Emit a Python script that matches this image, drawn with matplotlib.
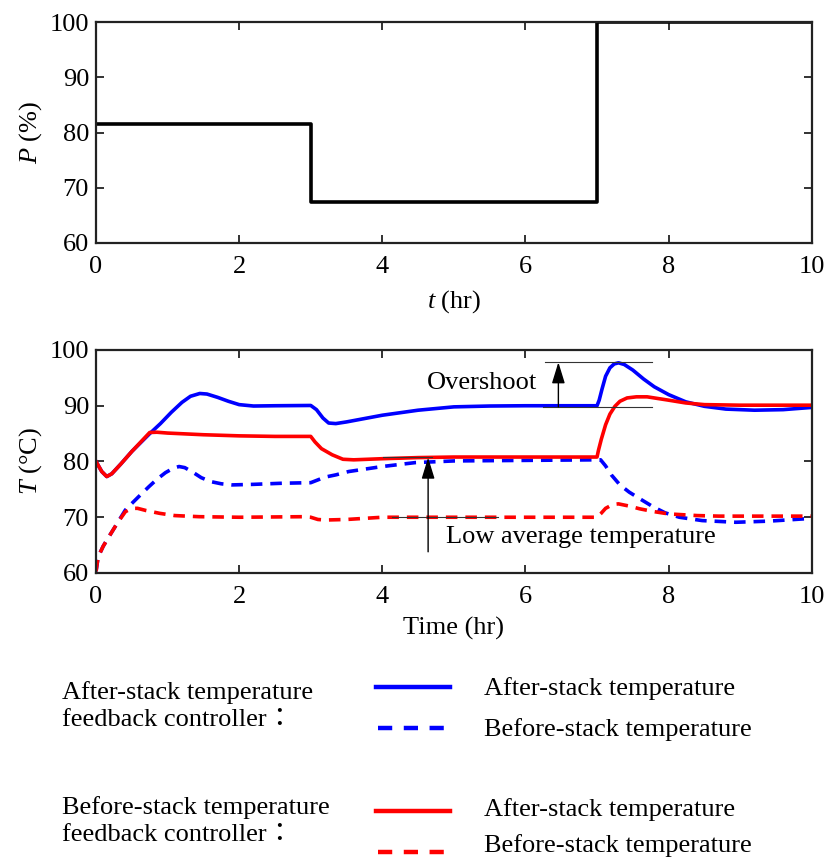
import matplotlib.pyplot as plt
from matplotlib.lines import Line2D

plt.rcParams['font.family'] = ['Liberation Serif', 'Noto Sans CJK JP', 'DejaVu Serif']
plt.rcParams['mathtext.fontset'] = 'custom'
plt.rcParams['mathtext.it'] = 'Liberation Serif:italic'
plt.rcParams['mathtext.rm'] = 'Liberation Serif'
FS = 19

# load step (top panel)
t_load = [0, 3, 7, 10]
p_load = [81.5, 67.5, 100, 100]

# after-stack temperature feedback controller
t_a_after = [0, 0.08, 0.15, 0.22, 0.35, 0.5, 0.75, 0.9, 1.05, 1.2, 1.32, 1.45, 1.55, 1.7,
             1.85, 2.0, 2.2, 2.5, 3.0, 3.08, 3.17, 3.25, 3.35, 3.5, 3.75, 4.0, 4.5, 5.0,
             5.5, 6.0, 7.0, 7.03, 7.07, 7.12, 7.18, 7.24, 7.3, 7.38, 7.5, 7.65, 7.8, 8.0,
             8.24, 8.5, 8.8, 9.2, 9.6, 10]
T_a_after = [80, 78.2, 77.3, 77.8, 79.6, 81.8, 85.0, 86.8, 88.8, 90.6, 91.7, 92.2, 92.1, 91.5,
             90.8, 90.2, 89.95, 90.0, 90.05, 89.3, 87.8, 86.9, 86.8, 87.1, 87.7, 88.3, 89.2, 89.8,
             89.95, 90.0, 90.0, 91.0, 93.0, 95.3, 96.8, 97.5, 97.7, 97.4, 96.4, 94.8, 93.4, 92.0,
             90.7, 89.9, 89.4, 89.2, 89.3, 89.7]

t_a_before = [0, 0.03, 0.1, 0.17, 0.3, 0.41, 0.51, 0.62, 0.74, 0.85, 0.97, 1.08, 1.16, 1.24,
              1.35, 1.47, 1.6, 1.75, 1.9, 2.2, 2.6, 3.0, 3.1, 3.2, 3.35, 3.53, 4.0, 4.46, 5.0,
              6.0, 7.0, 7.05, 7.12, 7.2, 7.32, 7.45, 7.6, 7.78, 7.95, 8.15, 8.47, 8.94, 9.4, 10]
T_a_before = [60.3, 62.9, 64.8, 66.3, 69.0, 71.3, 72.6, 74.0, 75.5, 76.8, 78.0, 78.8, 79.1, 78.9,
              78.1, 77.1, 76.4, 76.0, 75.8, 75.9, 76.1, 76.2, 76.7, 77.2, 77.6, 78.2, 79.1, 79.8, 80.1,
              80.2, 80.3, 80.3, 79.2, 77.6, 75.8, 74.5, 73.3, 71.9, 70.8, 70.0, 69.4, 69.1, 69.3, 69.8]

# before-stack temperature feedback controller
t_b_after = [0, 0.08, 0.15, 0.22, 0.35, 0.5, 0.75, 0.85, 1.0, 1.5, 2.0, 2.5, 3.0, 3.06,
             3.15, 3.3, 3.45, 3.6, 4.0, 4.5, 5.0, 7.0, 7.02, 7.06, 7.12, 7.18, 7.25, 7.32,
             7.42, 7.55, 7.7, 7.85, 8.0, 8.24, 8.5, 9.0, 10]
T_b_after = [80, 78.2, 77.3, 77.8, 79.6, 81.8, 85.2, 85.25, 85.1, 84.8, 84.6, 84.5, 84.5, 83.5,
             82.3, 81.2, 80.4, 80.3, 80.5, 80.7, 80.8, 80.8, 82.0, 84.0, 86.6, 88.5, 89.9, 90.8,
             91.4, 91.6, 91.6, 91.3, 91.0, 90.5, 90.2, 90.1, 90.1]

t_b_before = [0, 0.03, 0.1, 0.17, 0.3, 0.41, 0.5, 0.58, 0.7, 0.89, 1.1, 1.44, 2.0, 2.9,
              3.0, 3.1, 3.2, 3.5, 4.0, 5.0, 7.0, 7.05, 7.12, 7.22, 7.3, 7.45, 7.6, 7.8,
              8.0, 8.4, 8.7, 10]
T_b_before = [60.3, 62.9, 64.8, 66.3, 69.0, 71.0, 71.6, 71.6, 71.2, 70.7, 70.3, 70.1, 70.0, 70.1,
              70.0, 69.6, 69.5, 69.6, 70.0, 70.0, 70.0, 70.6, 71.6, 72.3, 72.4, 72.0, 71.5, 71.0,
              70.6, 70.3, 70.2, 70.2]

fig = plt.figure(figsize=(8.3, 8.61), dpi=100)
ax1 = fig.add_axes([0.1157, 0.7178, 0.8623, 0.2566])
ax2 = fig.add_axes([0.1157, 0.3345, 0.8623, 0.259])

ax1.plot(t_load, p_load, drawstyle='steps-post', color='black', lw=2.6)
ax1.set_xlim(0, 10)
ax1.set_ylim(60, 100)
ax1.set_xticks(range(0, 11, 2))
ax1.set_yticks(range(60, 101, 10))
ax1.set_xlabel('$t$ (hr)', fontsize=FS, labelpad=7)
ax1.set_ylabel('$P$ (%)', fontsize=FS, labelpad=4)

dash = (3.2, 2.2)
ax2.plot(t_a_after, T_a_after, color='#0000ff', lw=2.6)
ax2.plot(t_a_before, T_a_before, color='#0000ff', lw=2.6, ls=(0, dash))
ax2.plot(t_b_after, T_b_after, color='#ff0000', lw=2.6)
ax2.plot(t_b_before, T_b_before, color='#ff0000', lw=2.6, ls=(0, dash))
ax2.set_xlim(0, 10)
ax2.set_ylim(60, 100)
ax2.set_xticks(range(0, 11, 2))
ax2.set_yticks(range(60, 101, 10))
ax2.set_xlabel('Time (hr)', fontsize=FS, labelpad=6)
ax2.set_ylabel('$T$ (°C)', fontsize=FS, labelpad=4)

arrow_style = '-|>,head_length=1.3,head_width=0.4'

# overshoot annotation
ax2.plot([6.27, 7.77], [97.8, 97.8], color='#333333', lw=0.8)
ax2.plot([6.25, 7.77], [89.8, 89.8], color='#333333', lw=0.8)
ax2.annotate('', xy=(6.46, 97.8), xytext=(6.46, 89.8),
             arrowprops=dict(arrowstyle=arrow_style, color='black', lw=1, shrinkA=0, shrinkB=0))
ax2.text(4.62, 94.1, 'Overshoot', fontsize=FS, va='center', ha='left')

# low average temperature annotation
ax2.plot([4.01, 4.7], [80.8, 80.8], color='#333333', lw=0.8)
ax2.plot([4.13, 5.61], [70.0, 70.0], color='#333333', lw=0.8)
ax2.annotate('', xy=(4.64, 80.7), xytext=(4.64, 63.8),
             arrowprops=dict(arrowstyle=arrow_style, color='black', lw=1, shrinkA=0, shrinkB=0))
ax2.text(4.89, 66.5, 'Low average temperature', fontsize=FS, va='center', ha='left')

for ax in (ax1, ax2):
    ax.tick_params(direction='in', top=True, right=True, labelsize=FS, length=6,
                   width=1.3, color='#222222')
    ax.tick_params(axis='x', pad=9.5)
    ax.tick_params(axis='y', pad=5)
    for s in ax.spines.values():
        s.set_linewidth(1.6)
        s.set_color('#222222')

# legend block below the plots
H = 861.0
def fy(y):
    return 1 - y / H

groups = [('After-stack temperature\nfeedback controller：', '#0000ff', 706, 687, 728, 689, 730),
          ('Before-stack temperature\nfeedback controller：', '#ff0000', 821, 811, 852, 810, 846)]
for title, col, ty, y_solid, y_dash, y_l1, y_l2 in groups:
    fig.text(62 / 830, fy(ty), title, fontsize=FS, va='center', ha='left', linespacing=1.3)
    fig.add_artist(Line2D([376 / 830, 450 / 830], [fy(y_solid)] * 2, color=col, lw=3.2))
    fig.add_artist(Line2D([378 / 830, 450 / 830], [fy(y_dash)] * 2, color=col, lw=3.2,
                          ls=(0, (3.2, 2.6))))
    fig.text(484 / 830, fy(y_l1), 'After-stack temperature', fontsize=FS, va='center')
    fig.text(484 / 830, fy(y_l2), 'Before-stack temperature', fontsize=FS, va='center')

fig.savefig('out.png', dpi=100)
